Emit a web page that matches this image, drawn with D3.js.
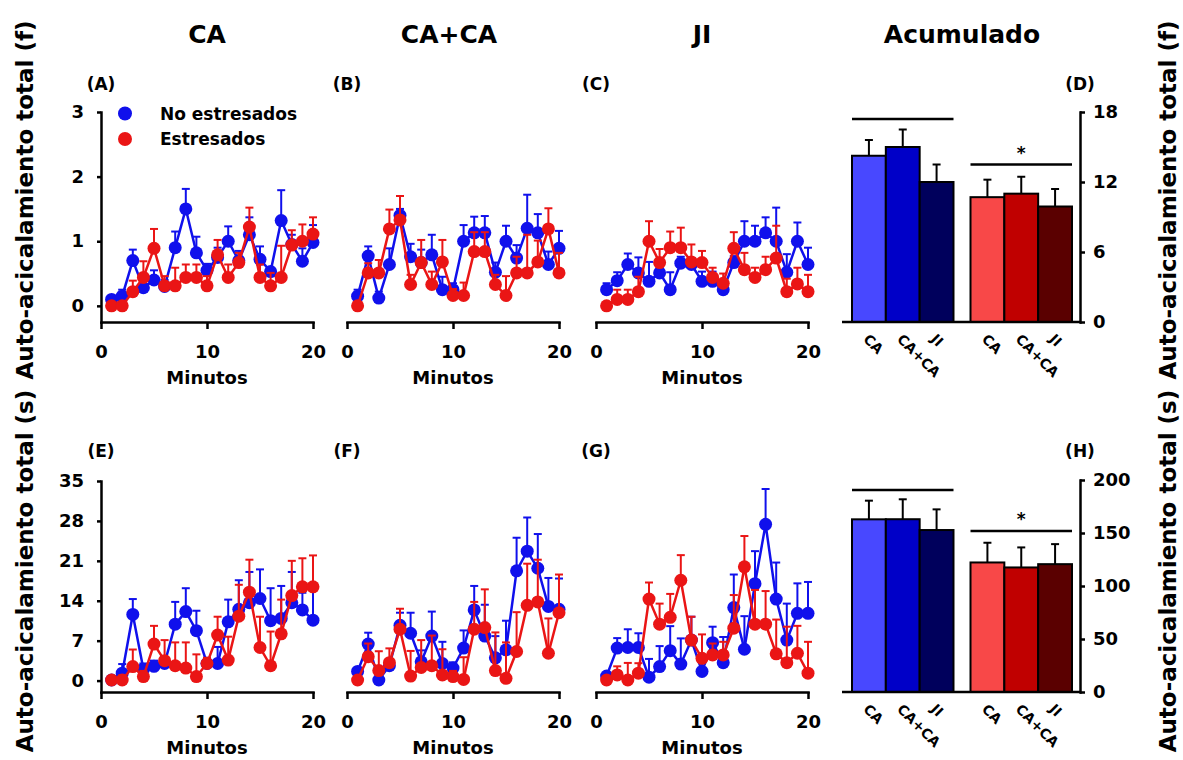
<!DOCTYPE html>
<html>
<head>
<meta charset="utf-8">
<script src="https://cdn.jsdelivr.net/npm/d3@7"></script>
<style>
	body { margin: 0; background: #fff; }
	svg text { font-family: "DejaVu Sans", sans-serif; font-weight: bold; fill: #000; }
</style>
</head>
<body>
<svg id="chart" width="1183" height="760"></svg>
<script>
const minutes = [1, 2, 3, 4, 5, 6, 7, 8, 9, 10, 11, 12, 13, 14, 15, 16, 17, 18, 19, 20];
const conditions = ["CA", "CA+CA", "JI"];
const groups = ["No estresados", "Estresados"];

// frecuencia (f)
const ca_f_no = [0.1, 0.15, 0.7, 0.28, 0.4, 0.3, 0.9, 1.5, 0.82, 0.55, 0.75, 1.0, 0.7, 1.1, 0.72, 0.53, 1.32, 0.95, 0.69, 0.98];
const ca_f_no_err = [0.05, 0.1, 0.17, 0.2, 0.15, 0.1, 0.25, 0.31, 0.25, 0.1, 0.15, 0.23, 0.15, 0.27, 0.2, 0.05, 0.47, 0.15, 0.2, 0.27];
const ca_f_st = [0, 0, 0.22, 0.44, 0.89, 0.31, 0.31, 0.44, 0.44, 0.31, 0.79, 0.44, 0.67, 1.22, 0.44, 0.31, 0.44, 0.94, 1.0, 1.11];
const ca_f_st_err = [0.05, 0.05, 0.17, 0.25, 0.3, 0.15, 0.28, 0.2, 0.2, 0.15, 0.23, 0.2, 0.15, 0.3, 0.2, 0.2, 0.49, 0.23, 0.26, 0.26];

const caca_f_no = [0.15, 0.77, 0.12, 0.64, 1.4, 0.76, 0.67, 0.79, 0.25, 0.25, 1.0, 1.13, 1.13, 0.52, 1.0, 0.74, 1.2, 1.13, 0.64, 0.89];
const caca_f_no_err = [0.1, 0.15, 0.1, 0.25, 0.1, 0.2, 0.2, 0.31, 0.2, 0.1, 0.25, 0.25, 0.26, 0.15, 0.24, 0.2, 0.52, 0.29, 0.2, 0.27];
const caca_f_st = [0, 0.51, 0.51, 1.19, 1.33, 0.33, 0.67, 0.33, 0.68, 0.16, 0.16, 0.84, 0.84, 0.33, 0.16, 0.51, 0.51, 0.68, 1.19, 0.51];
const caca_f_st_err = [0.05, 0.15, 0.2, 0.3, 0.37, 0.15, 0.35, 0.2, 0.34, 0.1, 0.2, 0.3, 0.3, 0.15, 0.3, 0.25, 0.59, 0.33, 0.32, 0.31];

const ji_f_no = [0.25, 0.39, 0.64, 0.51, 0.38, 0.51, 0.25, 0.66, 0.64, 0.38, 0.38, 0.25, 0.67, 1.0, 1.0, 1.13, 1.0, 0.52, 1.0, 0.64];
const ji_f_no_err = [0.1, 0.13, 0.17, 0.24, 0.3, 0.1, 0.27, 0.1, 0.1, 0.15, 0.15, 0.15, 0.1, 0.31, 0.24, 0.24, 0.52, 0.28, 0.29, 0.26];
const ji_f_st = [0, 0.1, 0.1, 0.22, 1.0, 0.67, 0.9, 0.9, 0.68, 0.67, 0.44, 0.35, 0.89, 0.56, 0.44, 0.56, 0.74, 0.22, 0.34, 0.22];
const ji_f_st_err = [0.05, 0.15, 0.15, 0.23, 0.31, 0.21, 0.25, 0.31, 0.27, 0.18, 0.15, 0.15, 0.25, 0.26, 0.15, 0.2, 0.5, 0.2, 0.25, 0.26];

// segundos (s)
const ca_s_no = [0.1, 1.3, 11.6, 2.0, 2.5, 3.0, 9.9, 12.1, 8.75, 3.0, 3.0, 10.3, 12.5, 13.65, 14.4, 10.5, 10.9, 13.65, 12.4, 10.6];
const ca_s_no_err = [0.3, 1.6, 2.7, 1, 1, 1, 3.9, 4.1, 3.5, 1, 2.9, 3.9, 5.1, 5.4, 5.1, 5.7, 5.7, 5.4, 3, 6];
const ca_s_st = [0.1, 0.1, 2.45, 0.7, 6.4, 3.5, 2.6, 2.2, 0.7, 3.0, 8.0, 3.6, 11.3, 15.5, 5.8, 2.6, 8.2, 14.9, 16.45, 16.45];
const ca_s_st_err = [0.2, 0.8, 3.0, 1, 3.2, 3.6, 4.1, 4.5, 3.9, 1, 3.2, 4.1, 5.5, 5.7, 5.4, 6.0, 6.0, 6.1, 5.0, 5.5];

const caca_s_no = [1.6, 6.4, 0.1, 2.6, 9.7, 8.3, 3.3, 7.8, 3.0, 2.2, 5.7, 12.4, 7.8, 4.0, 5.4, 19.25, 22.7, 19.7, 13.0, 12.5];
const caca_s_no_err = [0.5, 2.0, 0.5, 0.5, 2.2, 3.6, 2, 4.3, 3.8, 1, 3.1, 4.2, 5.5, 3.8, 5.1, 5.8, 5.9, 6.0, 5.0, 5.4];
const caca_s_st = [0.1, 4.2, 1.75, 3.15, 9.0, 0.8, 2.3, 2.6, 1.0, 0.7, 0.2, 9.0, 9.3, 1.75, 0.4, 5.1, 13.2, 13.8, 4.8, 11.9];
const caca_s_st_err = [0.3, 2.3, 3.4, 2.5, 3.6, 4.4, 4.8, 5.3, 4.5, 1, 3.9, 4.8, 6.7, 6.7, 6.3, 6.9, 7.3, 7.4, 6.1, 6.7];

const ji_s_no = [0.8, 5.7, 5.8, 5.8, 0.6, 2.45, 5.25, 2.9, 7.1, 1.6, 6.65, 3.15, 12.8, 5.5, 17.0, 27.4, 14.3, 7.1, 11.8, 11.8];
const ji_s_no_err = [0.5, 1.75, 3.2, 2.5, 3.2, 3.6, 4.3, 4.5, 4.1, 2, 2.8, 4.5, 5.8, 5.8, 5.7, 6.2, 6.4, 6.4, 5.25, 5.5];
const ji_s_st = [0.1, 1.0, 0.1, 1.3, 14.3, 9.9, 11.1, 17.6, 7.1, 3.9, 4.5, 4.5, 9.2, 19.95, 9.9, 9.9, 4.7, 3.15, 4.8, 1.3];
const ji_s_st_err = [0.3, 1.5, 3.0, 1.75, 2.9, 3.6, 4.1, 4.4, 4.1, 4.2, 2.0, 2.3, 5.8, 5.4, 6, 5.8, 6.0, 6.3, 4.8, 5.5];

// acumulado
const acc_f_no = [14.25, 15.0, 12.0];
const acc_f_no_err = [1.35, 1.5, 1.5];
const acc_f_st = [10.7, 11.0, 9.9];
const acc_f_st_err = [1.5, 1.45, 1.5];
const acc_f_sig = [17.4, 13.5];

const acc_s_no = [162.9, 163.0, 152.8];
const acc_s_no_err = [17.6, 18.8, 19.5];
const acc_s_st = [122.2, 117.5, 120.6];
const acc_s_st_err = [18.6, 18.9, 18.9];
const acc_s_sig = [190.6, 151.8];

const f_ticks = [0, 1, 2, 3];
const s_ticks = [0, 7, 14, 21, 28, 35];
const acc_f_ticks = [0, 6, 12, 18];
const acc_s_ticks = [0, 50, 100, 150, 200];
const minute_ticks = [0, 10, 20];

const BLUE = "#1010ec";
const RED = "#ea1515";
const bar_colors = {
	"No estresados": ["#4848ff", "#0000c8", "#00005c"],
	"Estresados": ["#f84848", "#c00000", "#5a0000"]
};

const svg = d3.select('#chart');

const rows = [
	{ y: d3.scaleLinear([-0.25, 3], [322, 112]), ticks: f_ticks, letter_y: 90, label: "Auto-acicalamiento total (f)", label_y: 200 },
	{ y: d3.scaleLinear([-2, 35], [692, 481]), ticks: s_ticks, letter_y: 457, label: "Auto-acicalamiento total (s)", label_y: 571 }
];
const col_left = [101, 347, 596];

function style_axis(g) {
	g.attr('font-size', 18).attr('font-family', null);
	g.selectAll('path, line').attr('stroke', '#000').attr('stroke-width', 2.5);
	g.select('.domain').attr('stroke-linecap', 'square');
}

function series(g, x, y, vals, errs, color) {
	const pts = vals.map((v, i) => ({ m: minutes[i], v: v, e: errs[i] }));

	g.append('path')
		.datum(pts)
		.attr('fill', 'none')
		.attr('stroke', color)
		.attr('stroke-width', 2.5)
		.attr('d', d3.line().x(d => x(d.m)).y(d => y(d.v)));

	const eb = g.append('g').attr('stroke', color).attr('stroke-width', 2);
	eb.selectAll('line.v').data(pts).enter().append('line')
		.attr('x1', d => x(d.m)).attr('x2', d => x(d.m))
		.attr('y1', d => y(d.v)).attr('y2', d => y(d.v + d.e));
	eb.selectAll('line.c').data(pts).enter().append('line')
		.attr('x1', d => x(d.m) - 4).attr('x2', d => x(d.m) + 4)
		.attr('y1', d => y(d.v + d.e)).attr('y2', d => y(d.v + d.e));

	g.selectAll(null).data(pts).enter().append('circle')
		.attr('cx', d => x(d.m))
		.attr('cy', d => y(d.v))
		.attr('r', 6.5)
		.attr('fill', color);
}

function line_panel(col, row, letter, no, no_err, st, st_err) {
	const r = rows[row];
	const x0 = col_left[col];
	const x = d3.scaleLinear([0, 20], [x0, x0 + 212]);
	const y = r.y;
	const g = svg.append('g');

	g.append('g')
		.attr('transform', `translate(0,${y.range()[0]})`)
		.call(d3.axisBottom(x).tickValues(minute_ticks).tickSize(7).tickSizeOuter(0).tickPadding(16))
		.call(style_axis);

	if (col === 0) {
		g.append('g')
			.attr('transform', `translate(${x0},0)`)
			.call(d3.axisLeft(y).tickValues(r.ticks).tickFormat(d3.format('d')).tickSize(4).tickSizeOuter(0).tickPadding(13))
			.call(style_axis);
	}

	g.append('text')
		.attr('x', x(10))
		.attr('y', y.range()[0] + 62)
		.attr('text-anchor', 'middle')
		.attr('font-size', 18)
		.text("Minutos");

	g.append('text')
		.attr('x', x0)
		.attr('y', r.letter_y)
		.attr('text-anchor', 'middle')
		.attr('font-size', 17)
		.text(`(${letter})`);

	series(g, x, y, no, no_err, BLUE);
	series(g, x, y, st, st_err, RED);

	return x;
}

function bar_panel(row, letter, y, ticks, no, no_err, st, st_err, sig) {
	const r = rows[row];
	const base = y.range()[0];
	const g = svg.append('g');

	const outer = d3.scaleBand(groups, [852, 1072]).paddingInner(0.1435);
	const inner = d3.scaleBand(conditions, [0, outer.bandwidth()]);

	const bars = [];
	conditions.forEach((c, i) => {
		bars.push({ grp: groups[0], cond: c, v: no[i], e: no_err[i], color: bar_colors[groups[0]][i] });
		bars.push({ grp: groups[1], cond: c, v: st[i], e: st_err[i], color: bar_colors[groups[1]][i] });
	});
	const bx = d => outer(d.grp) + inner(d.cond);
	const cx = d => bx(d) + inner.bandwidth() / 2;

	// error bars (only up)
	g.selectAll('line.v').data(bars).enter().append('line')
		.attr('x1', cx).attr('x2', cx)
		.attr('y1', d => y(d.v)).attr('y2', d => y(d.v + d.e))
		.attr('stroke', '#000').attr('stroke-width', 2);
	g.selectAll('line.c').data(bars).enter().append('line')
		.attr('x1', d => cx(d) - 4).attr('x2', d => cx(d) + 4)
		.attr('y1', d => y(d.v + d.e)).attr('y2', d => y(d.v + d.e))
		.attr('stroke', '#000').attr('stroke-width', 2);

	g.selectAll('rect').data(bars).enter().append('rect')
		.attr('x', bx)
		.attr('y', d => y(d.v))
		.attr('width', inner.bandwidth())
		.attr('height', d => base - y(d.v))
		.attr('fill', d => d.color)
		.attr('stroke', '#000')
		.attr('stroke-width', 2);

	// baseline + right axis
	g.append('line')
		.attr('x1', outer.range()[0] - 10).attr('x2', 1080)
		.attr('y1', base).attr('y2', base)
		.attr('stroke', '#000').attr('stroke-width', 2.5);
	g.append('g')
		.attr('transform', 'translate(1080,0)')
		.call(d3.axisRight(y).tickValues(ticks).tickSize(5).tickSizeOuter(0).tickPadding(8))
		.call(style_axis);

	g.selectAll('text.cond').data(bars).enter().append('text')
		.attr('class', 'cond')
		.attr('transform', d => `translate(${cx(d) - 6.5},${base + 18}) rotate(45)`)
		.attr('font-size', 14)
		.text(d => d.cond);

	// significance lines
	groups.forEach((grp, i) => {
		g.append('line')
			.attr('x1', outer(grp)).attr('x2', outer(grp) + outer.bandwidth())
			.attr('y1', y(sig[i])).attr('y2', y(sig[i]))
			.attr('stroke', '#000').attr('stroke-width', 2.5);
	});
	g.append('text')
		.attr('x', outer(groups[1]) + outer.bandwidth() / 2)
		.attr('y', y(sig[1]) - 6)
		.attr('text-anchor', 'middle')
		.attr('font-size', 17)
		.text("*");

	g.append('text')
		.attr('x', 1080)
		.attr('y', r.letter_y)
		.attr('text-anchor', 'middle')
		.attr('font-size', 17)
		.text(`(${letter})`);

	return outer;
}

const xa = line_panel(0, 0, "A", ca_f_no, ca_f_no_err, ca_f_st, ca_f_st_err);
const xb = line_panel(1, 0, "B", caca_f_no, caca_f_no_err, caca_f_st, caca_f_st_err);
const xc = line_panel(2, 0, "C", ji_f_no, ji_f_no_err, ji_f_st, ji_f_st_err);
const ob = bar_panel(0, "D", d3.scaleLinear([0, 18], [322, 112]), acc_f_ticks, acc_f_no, acc_f_no_err, acc_f_st, acc_f_st_err, acc_f_sig);

line_panel(0, 1, "E", ca_s_no, ca_s_no_err, ca_s_st, ca_s_st_err);
line_panel(1, 1, "F", caca_s_no, caca_s_no_err, caca_s_st, caca_s_st_err);
line_panel(2, 1, "G", ji_s_no, ji_s_no_err, ji_s_st, ji_s_st_err);
bar_panel(1, "H", d3.scaleLinear([0, 200], [692, 480]), acc_s_ticks, acc_s_no, acc_s_no_err, acc_s_st, acc_s_st_err, acc_s_sig);

// column titles
const titles = [
	{ t: "CA", x: xa(10) },
	{ t: "CA+CA", x: xb(10) - 4 },
	{ t: "JI", x: xc(10) },
	{ t: "Acumulado", x: ob.range()[0] + (ob.range()[1] - ob.range()[0]) / 2 }
];
svg.selectAll('text.title').data(titles).enter().append('text')
	.attr('class', 'title')
	.attr('x', d => d.x)
	.attr('y', 43)
	.attr('text-anchor', 'middle')
	.attr('font-size', 25)
	.text(d => d.t);

// y labels, both sides
rows.forEach(r => {
	svg.append('text')
		.attr('transform', `translate(33,${r.label_y}) rotate(-90)`)
		.attr('text-anchor', 'middle')
		.attr('font-size', 23)
		.text(r.label);
	svg.append('text')
		.attr('transform', `translate(1176,${r.label_y}) rotate(-90)`)
		.attr('text-anchor', 'middle')
		.attr('font-size', 23)
		.text(r.label);
});

// legend
const legend = svg.append('g');
[[groups[0], BLUE, 113.5], [groups[1], RED, 139]].forEach(([name, color, ly]) => {
	legend.append('circle').attr('cx', 125).attr('cy', ly).attr('r', 7).attr('fill', color);
	legend.append('text').attr('x', 160).attr('y', ly + 6).attr('font-size', 17).text(name);
});
</script>
</body>
</html>
